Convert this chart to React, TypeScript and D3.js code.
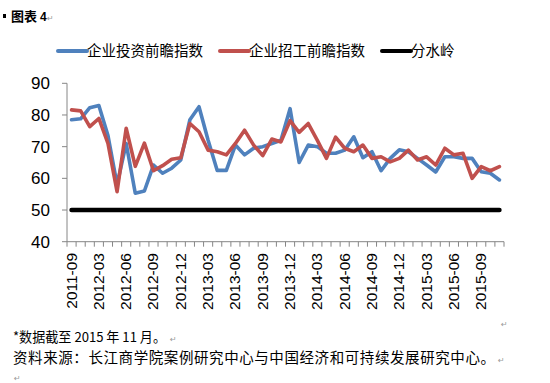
import React from "react";
import * as d3 from "d3";

const categories = [
  "2011-09", "2011-10", "2011-11",
  "2012-03", "2012-04", "2012-05", "2012-06", "2012-07", "2012-08", "2012-09", "2012-10", "2012-11", "2012-12",
  "2013-01", "2013-02", "2013-03", "2013-04", "2013-05", "2013-06", "2013-07", "2013-08", "2013-09", "2013-10", "2013-11", "2013-12",
  "2014-01", "2014-02", "2014-03", "2014-04", "2014-05", "2014-06", "2014-07", "2014-08", "2014-09", "2014-10", "2014-11", "2014-12",
  "2015-01", "2015-02", "2015-03", "2015-04", "2015-05", "2015-06", "2015-07", "2015-08", "2015-09", "2015-10", "2015-11",
];

const investIndex = [
  78.5, 78.8, 82.3, 83.0, 73.5, 58.0, 71.0, 55.3, 56.0, 64.2, 61.6, 63.2,
  65.8, 78.5, 82.6, 72.0, 62.5, 62.5, 70.5, 67.4, 69.5, 70.0, 71.0, 72.0,
  82.0, 65.0, 70.5, 70.0, 67.9, 67.9, 68.9, 73.1, 66.5, 68.4, 62.4, 66.3,
  69.0, 68.4, 66.3, 64.2, 62.0, 66.8, 66.8, 66.3, 66.3, 62.1, 61.6, 59.5,
];

const recruitIndex = [
  81.6, 81.3, 76.3, 78.9, 71.0, 55.8, 75.8, 63.8, 71.1, 62.4, 64.0, 66.0,
  66.5, 77.3, 74.7, 68.9, 68.4, 67.4, 71.0, 75.2, 70.5, 67.2, 72.4, 71.5,
  78.2, 74.5, 77.3, 72.0, 66.3, 73.0, 69.5, 68.4, 70.5, 66.3, 66.8, 65.2,
  66.3, 68.9, 65.8, 66.8, 64.2, 69.5, 67.4, 67.9, 60.0, 63.7, 62.4, 63.7,
];

const threshold = 50;
const yTicks = [40, 50, 60, 70, 80, 90];
const seriesNames = ["企业投资前瞻指数", "企业招工前瞻指数", "分水岭"];
const seriesColors = ["#4F81BD", "#C0504D", "#000000"];

const W = 550;
const H = 383;
const left = 67;
const right = 504;
const top = 83.3;
const bottom = 241.7;

export default function App() {
  const x = d3.scaleBand<string>().domain(categories).range([left, right]).padding(0);
  const y = d3.scaleLinear().domain([40, 90]).range([bottom, top]);
  const cx = (c: string) => (x(c) as number) + x.bandwidth() / 2;

  const line = d3
    .line<number>()
    .x((_, i) => cx(categories[i]))
    .y((d) => y(d));

  const thresholdData = categories.map(() => threshold);

  const boundaries = categories.map((c) => x(c) as number).concat([right]);
  const labelIdx = categories.map((_, i) => i).filter((i) => i % 3 === 0);

  const axisColor = "#868686";
  const cjk = "'Noto Sans CJK SC', sans-serif";
  const num = "'Liberation Sans', Arial, sans-serif";
  const mark = "'DejaVu Sans', sans-serif";

  const legendItems = [
    { x: 58, name: seriesNames[0], color: seriesColors[0] },
    { x: 220, name: seriesNames[1], color: seriesColors[1] },
    { x: 382, name: seriesNames[2], color: seriesColors[2] },
  ];

  return (
    <svg
      width={W}
      height={H}
      style={{ position: "absolute", left: 0, top: 0, background: "#fff" }}
    >
      {/* title */}
      <rect x={3} y={14} width={3} height={4} fill="#000" />
      <text x={11} y={21} fontFamily={cjk} fontSize={13} fontWeight="bold" fill="#000">
        图表
      </text>
      <text x={40} y={21} fontFamily={num} fontSize={12} fontWeight="bold" fill="#000">
        4
      </text>
      <text x={47} y={21} fontFamily={mark} fontSize={8} fill="#999">
        ↵
      </text>

      {/* legend */}
      {legendItems.map((it) => (
        <g key={it.name}>
          <line
            x1={it.x}
            x2={it.x + 29}
            y1={51}
            y2={51}
            stroke={it.color}
            strokeWidth={4}
            strokeLinecap="round"
          />
          <text x={it.x + 29} y={56} fontFamily={cjk} fontSize={14.5} fill="#000">
            {it.name}
          </text>
        </g>
      ))}

      {/* y axis */}
      <line x1={left} x2={left} y1={top} y2={bottom} stroke={axisColor} strokeWidth={1} />
      {yTicks.map((t) => (
        <g key={t}>
          <line x1={left - 5} x2={left} y1={y(t)} y2={y(t)} stroke={axisColor} strokeWidth={1} />
          <text
            x={50}
            y={y(t) + 6}
            textAnchor="end"
            fontFamily={num}
            fontSize={17}
            fill="#000"
          >
            {t}
          </text>
        </g>
      ))}

      {/* x axis */}
      <line x1={left} x2={right} y1={bottom} y2={bottom} stroke={axisColor} strokeWidth={1} />
      {boundaries.map((b, i) => (
        <line key={i} x1={b} x2={b} y1={bottom} y2={bottom + 5} stroke={axisColor} strokeWidth={1} />
      ))}
      {labelIdx.map((i) => {
        const px = cx(categories[i]) + 5;
        const py = 253;
        return (
          <text
            key={i}
            transform={`translate(${px},${py}) rotate(-90)`}
            textAnchor="end"
            fontFamily={num}
            fontSize={15.5}
            fill="#000"
          >
            {categories[i]}
          </text>
        );
      })}

      {/* series */}
      <path
        d={line(investIndex) || ""}
        fill="none"
        stroke={seriesColors[0]}
        strokeWidth={3.6}
        strokeLinejoin="round"
        strokeLinecap="round"
      />
      <path
        d={line(recruitIndex) || ""}
        fill="none"
        stroke={seriesColors[1]}
        strokeWidth={3.6}
        strokeLinejoin="round"
        strokeLinecap="round"
      />
      <path
        d={line(thresholdData) || ""}
        fill="none"
        stroke={seriesColors[2]}
        strokeWidth={4.5}
        strokeLinecap="round"
      />

      {/* footnotes */}
      <text x={501} y={327} fontFamily={mark} fontSize={8} fill="#999">
        ↵
      </text>
      <text x={13} y={342} fontFamily={cjk} fontSize={13.5} fill="#000" textLength={153} lengthAdjust="spacingAndGlyphs">
        *数据截至 2015 年 11 月。
      </text>
      <text x={170} y={342} fontFamily={mark} fontSize={8} fill="#999">
        ↵
      </text>
      <text x={13} y={363} fontFamily={cjk} fontSize={14.5} fill="#000" textLength={482} lengthAdjust="spacing">
        资料来源：长江商学院案例研究中心与中国经济和可持续发展研究中心。
      </text>
      <text x={498} y={363} fontFamily={mark} fontSize={8} fill="#999">
        ↵
      </text>
      <text x={14} y={381} fontFamily={mark} fontSize={8} fill="#999">
        ↵
      </text>
    </svg>
  );
}
